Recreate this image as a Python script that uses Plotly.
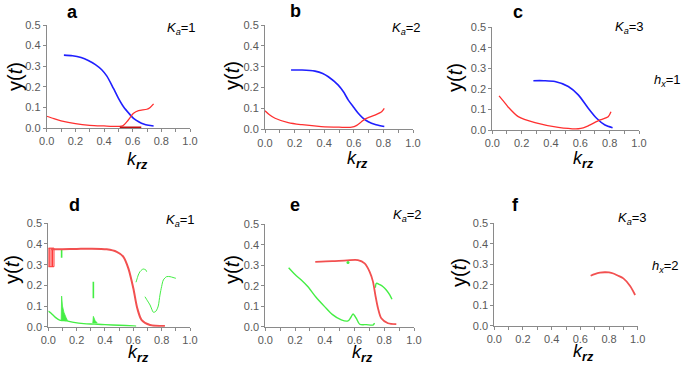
import plotly.graph_objects as go

W, H = 685, 365

# ---------------- data ----------------
# panel a (K_a=1, h_x=1)
a_blue_x = [0.12, 0.18, 0.24, 0.29, 0.34, 0.384, 0.42, 0.466, 0.50, 0.536, 0.58, 0.606, 0.645, 0.676, 0.71, 0.746]
a_blue_y = [0.354, 0.351, 0.342, 0.328, 0.308, 0.283, 0.252, 0.192, 0.145, 0.103, 0.066, 0.047, 0.029, 0.019, 0.013, 0.010]
a_red_x = [0.0, 0.05, 0.1, 0.2, 0.3, 0.4, 0.5, 0.53, 0.56, 0.583, 0.606, 0.641, 0.699, 0.722, 0.746]
a_red_y = [0.057, 0.045, 0.035, 0.021, 0.013, 0.010, 0.008, 0.010, 0.031, 0.052, 0.071, 0.084, 0.091, 0.100, 0.117]
a_dark_x = [0.51, 0.66]
a_dark_y = [0.003, 0.003]

# panel b (K_a=2, h_x=1)
b_blue_x = [0.176, 0.25, 0.338, 0.39, 0.428, 0.495, 0.53, 0.563, 0.60, 0.63, 0.66, 0.698, 0.75, 0.806]
b_blue_y = [0.284, 0.284, 0.279, 0.268, 0.252, 0.212, 0.180, 0.140, 0.105, 0.077, 0.055, 0.036, 0.022, 0.013]
b_red_x = [0.0, 0.03, 0.068, 0.157, 0.25, 0.38, 0.50, 0.586, 0.62, 0.65, 0.676, 0.743, 0.788, 0.806]
b_red_y = [0.089, 0.070, 0.053, 0.032, 0.022, 0.013, 0.010, 0.010, 0.019, 0.035, 0.049, 0.068, 0.084, 0.100]

# panel c (K_a=3, h_x=1)
c_blue_x = [0.28, 0.35, 0.427, 0.518, 0.586, 0.654, 0.711, 0.768, 0.82]
c_blue_y = [0.240, 0.240, 0.236, 0.212, 0.171, 0.106, 0.057, 0.024, 0.011]
c_red_x = [0.046, 0.08, 0.109, 0.177, 0.291, 0.45, 0.586, 0.62, 0.654, 0.734, 0.79, 0.809]
c_red_y = [0.166, 0.137, 0.111, 0.065, 0.036, 0.013, 0.006, 0.010, 0.020, 0.049, 0.065, 0.089]

# panel d (K_a=1, h_x=2)
d_red_x = [0.02, 0.1, 0.2, 0.3, 0.412, 0.483, 0.53, 0.565, 0.60, 0.628, 0.659, 0.718, 0.823]
d_red_y = [0.375, 0.375, 0.376, 0.377, 0.374, 0.362, 0.338, 0.282, 0.186, 0.089, 0.032, 0.008, 0.003]
d_band_x = [0.0, 0.04, 0.04, 0.0, 0.0, None, 0.01, 0.01, None, 0.02, 0.02, None, 0.03, 0.03]
d_band_y = [0.38, 0.38, 0.29, 0.29, 0.38, None, 0.38, 0.29, None, 0.38, 0.29, None, 0.38, 0.29]
d_green_low_x = [0.0, 0.02, 0.05, 0.08, 0.10, 0.13, 0.18, 0.25, 0.30, 0.35, 0.40, 0.50, 0.60, 0.62]
d_green_low_y = [0.075, 0.065, 0.045, 0.032, 0.030, 0.028, 0.021, 0.015, 0.013, 0.012, 0.010, 0.007, 0.004, 0.003]
d_spike1_x = [0.091, 0.094, 0.10, 0.11, 0.125, 0.135, 0.091]
d_spike1_y = [0.03, 0.148, 0.10, 0.07, 0.045, 0.03, 0.03]
d_spike2_x = [0.314, 0.318, 0.33, 0.345, 0.314]
d_spike2_y = [0.018, 0.050, 0.030, 0.018, 0.018]
d_green_seg_x = [0.094, 0.094, None, 0.318, 0.318]
d_green_seg_y = [0.333, 0.374, None, 0.137, 0.217]
d_green_arc1_x = [0.619, 0.624, 0.635, 0.647, 0.66, 0.67, 0.689, 0.694]
d_green_arc1_y = [0.215, 0.226, 0.250, 0.266, 0.275, 0.279, 0.274, 0.266]
d_green_arc2_x = [0.682, 0.70, 0.718, 0.73, 0.741, 0.755, 0.765, 0.776, 0.788, 0.80, 0.812, 0.835, 0.859, 0.88, 0.90]
d_green_arc2_y = [0.145, 0.125, 0.105, 0.085, 0.070, 0.072, 0.081, 0.100, 0.153, 0.195, 0.226, 0.242, 0.242, 0.238, 0.234]

# panel e (K_a=2, h_x=2)
e_red_x = [0.336, 0.45, 0.55, 0.623, 0.668, 0.702, 0.724, 0.74, 0.758, 0.78, 0.825, 0.881]
e_red_y = [0.317, 0.320, 0.324, 0.325, 0.309, 0.268, 0.220, 0.155, 0.090, 0.041, 0.017, 0.013]
e_green_x = [0.157, 0.20, 0.242, 0.287, 0.34, 0.399, 0.45, 0.511, 0.556, 0.575, 0.59, 0.612, 0.635, 0.68, 0.724, 0.735]
e_green_y = [0.288, 0.255, 0.228, 0.195, 0.145, 0.098, 0.060, 0.033, 0.028, 0.045, 0.062, 0.041, 0.012, 0.010, 0.008, 0.017]
e_green2_x = [0.74, 0.747, 0.77, 0.792, 0.815, 0.837, 0.852]
e_green2_y = [0.190, 0.212, 0.205, 0.195, 0.178, 0.155, 0.134]
e_green_dot_x = [0.556]
e_green_dot_y = [0.314]

# panel f (K_a=3, h_x=2)
f_red_x = [0.672, 0.70, 0.737, 0.77, 0.80, 0.83, 0.86, 0.90, 0.947, 0.982]
f_red_y = [0.244, 0.252, 0.259, 0.261, 0.260, 0.255, 0.245, 0.231, 0.194, 0.150]

x_ticks = [0.0, 0.2, 0.4, 0.6, 0.8, 1.0]
x_tick_text = ["0.0", "0.2", "0.4", "0.6", "0.8", "1.0"]
y_ticks = [0.0, 0.1, 0.2, 0.3, 0.4, 0.5]
y_tick_text = ["0.0", "0.1", "0.2", "0.3", "0.4", "0.5"]
panel_letters = ["a", "b", "c", "d", "e", "f"]
ka_labels = ["1", "2", "3", "1", "2", "3"]
hx_labels = ["1", "2"]

BLUE = "#1f1fff"
RED = "#ff3030"
RED2 = "#f25050"
GREEN = "#44ee44"
DARKRED = "#c01010"
FONT = "Liberation Sans, Arial"

# pixel boxes of plot areas (left, right, top, bottom)
boxes = [
    (46.7, 190, 25, 128),
    (265, 413, 25, 129.3),
    (492.3, 639, 27.3, 130),
    (48.3, 190, 223.3, 326.7),
    (265.3, 414, 224.3, 326.7),
    (494.3, 637.7, 223.3, 325.7),
]

fig = go.Figure()


def add(i, x, y, color, width=1.6, mode="lines", fill=None, size=2, spline=True):
    sfx = "" if i == 0 else str(i + 1)
    kw = dict(x=x, y=y, mode=mode, xaxis="x" + sfx, yaxis="y" + sfx,
              showlegend=False, hoverinfo="skip")
    if "lines" in mode:
        if spline:
            kw["line"] = dict(color=color, width=width, shape="spline", smoothing=0.8)
        else:
            kw["line"] = dict(color=color, width=width)
    if "markers" in mode:
        kw["marker"] = dict(color=color, size=size)
    if fill:
        kw["fill"] = fill
        kw["fillcolor"] = color
        kw["line"] = dict(color=color, width=0.8)
    fig.add_trace(go.Scatter(**kw))


# a
add(0, a_blue_x, a_blue_y, BLUE)
add(0, a_red_x, a_red_y, RED, width=1.3)
add(0, a_dark_x, a_dark_y, DARKRED, width=1.6, spline=False)
# b
add(1, b_blue_x, b_blue_y, BLUE)
add(1, b_red_x, b_red_y, RED, width=1.3)
# c
add(2, c_blue_x, c_blue_y, BLUE)
add(2, c_red_x, c_red_y, RED, width=1.3)
# d
add(3, d_green_low_x, d_green_low_y, GREEN, width=1.4)
add(3, d_spike1_x, d_spike1_y, GREEN, fill="toself")
add(3, d_spike2_x, d_spike2_y, GREEN, fill="toself")
add(3, d_green_seg_x, d_green_seg_y, GREEN, width=1.6, spline=False)
add(3, d_green_arc1_x, d_green_arc1_y, GREEN, width=1.0)
add(3, d_green_arc2_x, d_green_arc2_y, GREEN, width=1.0)
add(3, d_band_x, d_band_y, RED, width=1.0, spline=False)
add(3, d_red_x, d_red_y, RED2, width=2.0)
# e
add(4, e_green_x, e_green_y, GREEN, width=1.4)
add(4, e_green2_x, e_green2_y, GREEN, width=1.4)
add(4, e_red_x, e_red_y, RED2, width=1.8)
add(4, e_green_dot_x, e_green_dot_y, GREEN, mode="markers", size=3)
# f
add(5, f_red_x, f_red_y, RED2, width=1.8)

axis_common = dict(
    showline=True, linecolor="#8a8a8a", linewidth=1, mirror=False,
    ticks="outside", ticklen=3, tickcolor="#8a8a8a", tickwidth=1,
    showgrid=False, zeroline=False, automargin=False,
    tickfont=dict(family=FONT, size=11, color="#595959"),
    fixedrange=True,
)

layout = dict(width=W, height=H, margin=dict(l=0, r=0, t=0, b=0, pad=0, autoexpand=False),
              template=go.layout.Template(),
              paper_bgcolor="white", plot_bgcolor="white", showlegend=False)

for i, (l, r, t, b) in enumerate(boxes):
    sfx = "" if i == 0 else str(i + 1)
    layout["xaxis" + sfx] = dict(
        axis_common, domain=[l / W, r / W], range=[0, 1.0],
        tickvals=x_ticks, ticktext=x_tick_text, anchor="y" + sfx,
        minor=dict(dtick=0.1, tick0=0, ticks="outside", ticklen=3, tickcolor="#8a8a8a"),
    )
    layout["yaxis" + sfx] = dict(
        axis_common, domain=[1 - b / H, 1 - t / H], range=[0, 0.5],
        tickvals=y_ticks, ticktext=y_tick_text, anchor="x" + sfx,
    )

fig.update_layout(**layout)


def px(x, y):
    return x / W, 1 - y / H


def note(pos, text, size, angle=0):
    x, y = px(*pos)
    return dict(x=x, y=y, xref="paper", yref="paper", text=text, textangle=angle,
                xanchor="center", yanchor="middle", showarrow=False,
                font=dict(family=FONT, size=size, color="black"))


ann = []
letter_pos = [(72, 12), (295, 11), (518, 12), (74, 205), (295, 205), (515, 205)]
ka_pos = [(181, 28), (406, 28), (629, 27), (180, 220), (407, 215), (632, 218)]
ytitle_pos = [(15, 77), (232, 76), (455, 78), (12, 270), (232, 270), (459, 273)]
xtitle_pos = [(137, 160), (357, 159), (583, 159), (138, 353), (362, 353), (583, 352)]
for i in range(6):
    ann.append(note(letter_pos[i], "<b>%s</b>" % panel_letters[i], 18))
    ann.append(note(ka_pos[i], "<i>K</i><sub><i>a</i></sub>=%s" % ka_labels[i], 13))
    ann.append(note(ytitle_pos[i], "y(<i>t</i>)", 20, angle=-90))
    ann.append(note(xtitle_pos[i], "<i>k</i><sub><b><i>rz</i></b></sub>", 18))

for (hx, pos) in zip(hx_labels, [(667, 80), (665, 266)]):
    ann.append(note(pos, "<i>h</i><sub><i>x</i></sub>=%s" % hx, 13))

fig.update_layout(annotations=ann)
fig.write_html("out.html", config={"displayModeBar": False},
               post_script="document.body.style.margin='0px';document.body.style.overflow='hidden';")
